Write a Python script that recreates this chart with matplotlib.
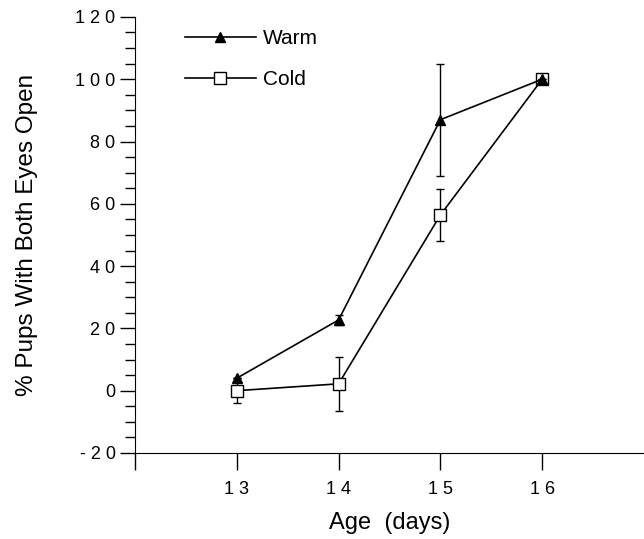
import matplotlib.pyplot as plt
from matplotlib.lines import Line2D
from matplotlib.ticker import MultipleLocator, FixedLocator

plt.rcParams['font.family'] = ['Liberation Sans', 'DejaVu Sans']

age = [13, 14, 15, 16]
warm = [4, 22.7, 87, 100]
warm_err = [0, 1.5, 18, 0]
cold = [0, 2.2, 56.4, 100]
cold_err = [4, 8.7, 8.3, 0]

yticks = [-20, 0, 20, 40, 60, 80, 100, 120]
ytick_labels = ["- 2 0", "0", "2 0", "4 0", "6 0", "8 0", "1 0 0", "1 2 0"]
xticks = [12, 13, 14, 15, 16]
xtick_labels = ["", "1 3", "1 4", "1 5", "1 6"]

fig = plt.figure(figsize=(6.44, 5.39), dpi=100)
ax = fig.add_axes([0.2096, 0.1596, 0.7904, 0.809])

ax.errorbar(age, cold, yerr=cold_err, color="black", lw=1.2, marker="s",
            ms=8.5, mfc="white", mec="black", mew=1.0, capsize=3, elinewidth=1.0,
            zorder=2)
ax.errorbar(age, warm, yerr=warm_err, color="black", lw=1.2, marker="^",
            ms=7.5, mfc="black", mec="black", capsize=3, elinewidth=1.0,
            zorder=3)

ax.set_xlim(12, 17)
ax.set_ylim(-20, 120)
ax.yaxis.set_major_locator(FixedLocator(yticks))
ax.set_yticklabels(ytick_labels)
ax.yaxis.set_minor_locator(MultipleLocator(5))
ax.xaxis.set_major_locator(FixedLocator(xticks))
ax.set_xticklabels(xtick_labels)

ax.spines["top"].set_visible(False)
ax.spines["right"].set_visible(False)
ax.tick_params(axis="y", which="major", direction="out", length=11, width=1, labelsize=13, pad=3)
ax.tick_params(axis="y", which="minor", direction="out", length=7, width=1)
ax.tick_params(axis="x", which="major", direction="out", length=12, width=1, labelsize=13, pad=8)

ax.set_xlabel("Age  (days)", fontsize=17, labelpad=10)
ax.set_ylabel("% Pups With Both Eyes Open", fontsize=17.5)
ax.yaxis.set_label_coords(-0.19, 0.5)

handles = [
    Line2D([], [], color="black", lw=1.2, marker="^", ms=7.5, mfc="black"),
    Line2D([], [], color="black", lw=1.2, marker="s", ms=8.5, mfc="white", mew=1.0),
]
ax.legend(handles, ["Warm", "Cold"], loc="upper left", bbox_to_anchor=(0.061, 1.015),
          frameon=False, fontsize=15, handlelength=3.4, handletextpad=0.35,
          labelspacing=1.05)

fig.savefig("out.png", dpi=100)
